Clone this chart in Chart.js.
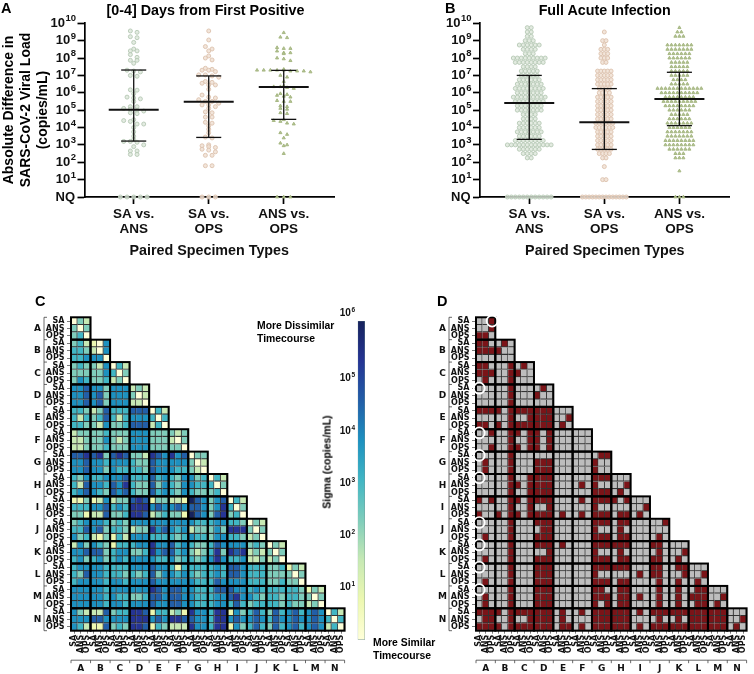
<!DOCTYPE html>
<html>
<head>
<meta charset="utf-8">
<script src="https://cdn.jsdelivr.net/npm/chart.js@4"></script>
<style>
  html, body { margin: 0; background: #fff; }
  #page { position: relative; width: 754px; height: 674px; overflow: hidden; }
  #page canvas { position: absolute; }
  .note { position: absolute; font: bold 13px "Liberation Sans", Arial, sans-serif; color: #000; white-space: pre; line-height: 13px; }
</style>
</head>
<body>
<div id="page"></div>
<script>
// values on the swarm panels are log10(copies/mL), NQ sits at 0
const pairLabels = [['SA vs.', 'ANS'], ['SA vs.', 'OPS'], ['ANS vs.', 'OPS']];

const a1Logs = [9.56,9.48,9.23,9.17,8.9,8.52,8.41,8.41,8.2,8.04,7.87,7.87,7.7,7.3,7.25,7.2,7.0,6.95,6.17,6.15,5.95,5.75,5.7,5.65,5.5,5.2,5.2,5.1,5.05,5.0,4.95,4.85,4.8,4.45,4.4,4.35,4.2,4.2,4.0,3.75,3.5,3.3,3.2,3.2,3.15,3.0,2.9,2.65,2.65,2.45,2.45,0,0,0,0,0];
const a2Logs = [9.56,9.04,8.66,8.52,8.41,8.12,8.0,7.89,7.41,7.35,7.3,7.3,7.22,7.03,7.03,6.97,6.9,6.65,6.6,6.55,6.45,6.45,6.2,5.87,5.75,5.7,5.6,5.5,5.5,5.4,5.3,5.3,5.2,5.1,4.9,4.85,4.6,4.6,4.3,4.25,4.1,3.9,3.7,3.45,3.4,3.0,2.95,2.9,2.85,2.75,2.7,2.6,2.4,2.4,1.8,1.8,0,0,0];
const a3Logs = [9.46,9.2,9.17,8.6,8.55,8.55,8.4,8.3,8.3,8.25,8.0,7.95,7.85,7.35,7.3,7.3,7.3,7.3,7.3,7.25,7.25,7.25,7.2,7.0,6.9,6.65,6.4,6.35,6.35,6.3,6.25,5.95,5.9,5.85,5.8,5.75,5.55,5.5,5.5,5.25,5.2,5.1,5.05,4.85,4.8,4.45,4.4,4.35,4.25,4.2,3.7,3.6,3.4,3.1,3.0,2.95,2.5,0,0,0];
const aMean = [5.03, 5.49, 6.33];
const aUpper = [7.31, 6.97, 7.29];
const aLower = [3.22, 3.43, 4.47];

const b1Levels = [9.75,9.5,9.25,9.0,8.75,8.5,8.25,8.0,7.75,7.5,7.25,7.0,6.75,6.5,6.25,6.0,5.75,5.5,5.25,5.0,4.75,4.5,4.25,4.0,3.75,3.5,3.25,3.0,2.75,2.5,2.25,0];
const b1Counts = [2,2,2,3,6,4,3,9,8,4,5,5,6,7,8,7,9,8,7,7,4,4,6,6,7,6,8,12,6,4,2,12];
const b2Levels = [9.5,9.0,8.75,8.5,8.25,8.0,7.75,7.25,7.0,6.75,6.5,6.25,6.0,5.75,5.5,5.25,5.0,4.75,4.5,4.25,4.0,3.75,3.5,3.25,3.0,2.75,2.5,2.25,1.75,1.0,0];
const b2Counts = [1,2,1,3,3,3,2,5,5,5,5,4,4,5,5,5,5,5,5,6,6,5,5,5,5,5,4,2,1,2,14];
const b3Levels = [9.75,9.5,9.25,8.75,8.5,8.25,8.0,7.75,7.5,7.25,7.0,6.75,6.5,6.25,6.0,5.75,5.5,5.25,5.0,4.75,4.5,4.25,4.0,3.75,3.5,3.25,3.0,2.75,2.5,2.25,1.5,0];
const b3Counts = [1,2,3,7,7,6,6,5,5,5,5,4,5,12,10,8,9,8,6,5,6,7,6,7,7,8,8,6,3,3,1,3];
const bMean = [5.41, 4.30, 5.64];
const bUpper = [7.00, 6.24, 7.18];
const bLower = [3.32, 2.74, 4.11];

const specimenTypes = ['SA', 'ANS', 'OPS'];
const subjects = ['A','B','C','D','E','F','G','H','I','J','K','L','M','N'];

// colour level per cell, 0 = palest to 8 = darkest, one string per row, one group per subject
const sigmaLevels = [
  '032','303','340',
  '342 105','443 205','445 550',
  '343 325 042','333 335 403','354 334 230',
  '556 553 555 232','556 563 555 302','556 563 555 220',
  '443 236 444 666 042','424 346 424 555 404','443 325 334 666 240',
  '233 334 333 555 333 323','223 335 323 555 333 203','223 334 333 555 333 330',
  '667 673 676 332 765 756 033','556 554 555 433 655 555 302','556 553 544 443 655 544 320',
  '435 445 556 444 645 435 534 042','426 554 657 433 635 435 544 403','456 543 656 433 645 435 433 340',
  '113 125 233 676 133 221 865 356 042','444 556 454 777 565 565 665 357 403','331 226 334 776 234 331 865 367 340',
  '345 554 343 555 555 555 544 455 443 032','446 563 443 233 756 545 233 353 777 303','534 213 142 555 444 434 544 355 443 230',
  '253 543 144 455 755 645 433 465 555 343 032','556 663 455 334 756 645 323 473 767 232 303','453 453 454 555 544 534 434 575 445 223 230',
  '455 554 444 555 655 414 444 454 665 444 334 132','436 554 443 434 635 545 434 454 665 444 333 303','455 554 554 555 655 555 544 465 555 444 334 330',
  '555 554 555 555 765 665 544 466 655 454 444 443 132','555 554 544 334 665 665 544 455 675 543 443 443 303','555 554 554 555 655 665 544 455 464 344 443 433 230',
  '532 226 344 776 144 231 755 477 153 464 364 564 565 042','555 665 555 777 565 776 655 477 565 565 465 565 565 404','542 116 343 776 143 222 755 477 153 464 364 564 565 240'
];

// 1 = significantly dissimilar pair
const significant = [
  '001','001','110',
  '110 010','111 100','000 000',
  '110 001 010','111 001 100','010 001 000',
  '000 001 000 010','000 001 000 100','000 001 000 000',
  '111 101 111 111 000','000 001 001 111 001','110 101 111 111 010',
  '001 001 101 101 000 000','000 001 001 101 000 000','001 001 101 101 000 000',
  '000 001 000 000 000 000 011','010 001 000 111 000 000 100','010 001 000 111 000 000 100',
  '000 001 001 111 000 000 111 000','000 001 101 111 000 010 100 001','000 001 001 111 000 000 111 010',
  '101 001 101 111 000 010 111 101 000','000 001 001 001 000 000 100 000 001','100 101 101 111 010 010 111 011 010',
  '000 001 000 111 000 000 111 011 000 001','000 001 000 011 000 000 100 010 000 000','010 001 000 111 000 000 111 011 000 010',
  '000 001 000 111 010 000 111 111 000 110 000','000 001 000 001 000 000 100 010 000 010 001','010 001 000 111 000 000 111 011 000 110 010',
  '000 001 000 111 000 000 111 111 000 110 011 000','000 001 000 111 000 000 100 000 010 110 001 001','010 001 000 111 000 000 111 011 000 010 010 010',
  '000 001 000 111 000 000 110 011 000 010 010 011 000','010 001 000 111 000 000 111 011 010 010 010 111 001','010 001 000 111 000 000 101 011 000 010 010 011 010',
  '111 101 111 111 010 010 111 111 010 111 111 111 111 000','011 001 001 111 010 000 111 111 000 010 010 111 111 001','111 101 111 111 011 010 111 111 010 111 111 111 111 010'
];
const circledCells = [[0,2],[9,0],[15,0],[18,0],[21,0],[27,0],[30,0],[33,0],[36,0]]; // [row, col]

const colorbarExponents = [1, 2, 3, 4, 5, 6];
const ramp = ['#ffffd9','#edf8b1','#c7e9b4','#7fcdbb','#41b6c4','#1d91c0','#225ea8','#253494','#16225c'];

const SANS = '"Liberation Sans", Arial, sans-serif';
const page = document.getElementById('page');

function addCanvas(left, top, width, height) {
  const c = document.createElement('canvas');
  c.width = width; c.height = height;
  c.style.left = left + 'px'; c.style.top = top + 'px';
  c.style.width = width + 'px'; c.style.height = height + 'px';
  page.appendChild(c);
  return c;
}

function note(text, x, y, size, center, rotate) {
  const d = document.createElement('div');
  d.className = 'note';
  d.textContent = text;
  d.style.left = x + 'px'; d.style.top = y + 'px';
  d.style.fontSize = size + 'px';
  d.style.lineHeight = Math.round(size * 1.25) + 'px';
  if (center) d.style.transform = 'translate(-50%, -50%)' + (rotate ? ' rotate(-90deg)' : '');
  page.appendChild(d);
}

function expand(levels, counts) {
  return levels.flatMap((v, i) => Array(counts[i]).fill(v));
}

// GraphPad style: values in one bin spread evenly either side of the group centre
function swarm(values, group, spacing, bin) {
  const rows = new Map();
  values.forEach(v => {
    const key = Math.round(v / bin);
    if (!rows.has(key)) rows.set(key, []);
    rows.get(key).push(v);
  });
  const pts = [];
  rows.forEach(row => row.forEach((v, k) => {
    pts.push({ x: group + (k - (row.length - 1) / 2) * spacing, y: v });
  }));
  return pts;
}

function segment(x0, y0, x1, y1, width) {
  return {
    type: 'scatter', showLine: true, pointRadius: 0, order: 0, clip: false,
    data: [{ x: x0, y: y0 }, { x: x1, y: y1 }],
    borderColor: '#111', borderWidth: width
  };
}

function errorBars(mean, upper, lower, meanHalf, capHalf) {
  const out = [];
  mean.forEach((m, i) => {
    const x = i + 1;
    out.push(segment(x, lower[i], x, upper[i], 1.3));
    out.push(segment(x - capHalf, upper[i], x + capHalf, upper[i], 1.3));
    out.push(segment(x - capHalf, lower[i], x + capHalf, lower[i], 1.3));
    out.push(segment(x - meanHalf, m, x + meanHalf, m, 2));
  });
  return out;
}

const markerStyles = [
  { pointStyle: 'circle', pointRadius: 2, pointBackgroundColor: 'rgba(220,230,218,0.8)', pointBorderColor: '#b5c8b4' },
  { pointStyle: 'circle', pointRadius: 2, pointBackgroundColor: 'rgba(240,224,212,0.85)', pointBorderColor: '#dcc2ae' },
  { pointStyle: 'triangle', pointRadius: 1.8, pointBackgroundColor: '#b5c495', pointBorderColor: '#a3b47e' }
];

// draws 10^n tick labels with a real raised exponent
function powerLabels(axisId, rightX, size, supSize, rise, topNudge) {
  return {
    id: 'powerLabels',
    afterDraw(chart) {
      const { ctx } = chart;
      const scale = chart.scales[axisId];
      ctx.save();
      ctx.fillStyle = '#111';
      ctx.textBaseline = 'middle';
      scale.ticks.forEach(t => {
        let y = scale.getPixelForValue(t.value);
        const font = `bold ${size}px ${SANS}`, supFont = `bold ${supSize}px ${SANS}`;
        if (t.value === 0) {
          ctx.font = font; ctx.textAlign = 'right';
          ctx.fillText('NQ', rightX - 1, y);
          return;
        }
        if (t.value === 6 && topNudge) y -= topNudge;
        ctx.textAlign = 'left';
        ctx.font = supFont;
        const sup = String(t.value), supW = ctx.measureText(sup).width;
        ctx.font = font;
        const baseW = ctx.measureText('10').width;
        ctx.fillText('10', rightX - supW - baseW - 0.5, y);
        ctx.font = supFont;
        ctx.fillText(sup, rightX - supW, y - rise);
      });
      ctx.restore();
    }
  };
}

function swarmChart(canvas, datasets, plotLeft, plotRight, plotTop, plotBottom, xMin, xMax) {
  return new Chart(canvas, {
    type: 'scatter',
    data: { datasets },
    plugins: [powerLabels('y', plotLeft - 8.5, 13, 9.5, 4.5)],
    options: {
      responsive: false, animation: false,
      layout: { padding: { top: plotTop, right: canvas.width - plotRight, left: 0, bottom: 0 } },
      plugins: { legend: { display: false }, tooltip: { enabled: false } },
      scales: {
        x: {
          type: 'linear', min: xMin, max: xMax,
          afterBuildTicks: s => { s.ticks = [1, 2, 3].map(value => ({ value })); },
          afterFit: s => { s.height = canvas.height - plotBottom; },
          border: { color: '#000', width: 1.7 },
          grid: { drawOnChartArea: false, tickLength: 7, tickWidth: 1.7, tickColor: '#000' },
          ticks: {
            autoSkip: false, maxRotation: 0, padding: 2.5, color: '#111',
            font: { family: SANS, weight: 'bold', size: 13.5, lineHeight: 1.13 },
            callback: (v, i) => pairLabels[i]
          },
          title: {
            display: true, text: 'Paired Specimen Types', color: '#111',
            font: { family: SANS, weight: 'bold', size: 14.3, lineHeight: 1.2 },
            padding: { top: 0, bottom: 2 }
          }
        },
        y: {
          type: 'linear', min: 0, max: 10,
          afterBuildTicks: s => { s.ticks = [0,1,2,3,4,5,6,7,8,9,10].map(value => ({ value })); },
          afterFit: s => { s.width = plotLeft; },
          border: { color: '#000', width: 1.7 },
          grid: { drawOnChartArea: false, tickLength: 7, tickWidth: 1.7, tickColor: '#000' },
          ticks: { autoSkip: false, callback: () => '' }
        }
      }
    }
  });
}

function swarmSets(groups, spacings, bins) {
  return groups.map((vals, i) => Object.assign({
    data: swarm(vals, i + 1, spacings[i], bins[i]),
    pointBorderWidth: 0.9, order: 1, clip: false
  }, markerStyles[i]));
}

// Panel A
const canvasA = addCanvas(0, 0, 377, 262);
swarmChart(canvasA,
  [...errorBars(aMean, aUpper, aLower, 0.333, 0.167),
   ...swarmSets([a1Logs, a2Logs, a3Logs], [0.089, 0.089, 0.089], [0.24, 0.24, 0.24])],
  84.5, 334, 23.3, 197, 1 - 0.656, 3.67);

// Panel B
const canvasB = addCanvas(377, 0, 377, 262);
swarmChart(canvasB,
  [...errorBars(bMean, bUpper, bLower, 0.333, 0.167),
   ...swarmSets([expand(b1Levels, b1Counts), expand(b2Levels, b2Counts), expand(b3Levels, b3Counts)],
                [0.053, 0.045, 0.053], [0.25, 0.25, 0.25])],
  103, 352.7, 23.3, 197, 1 - 0.656, 3.67);

// Heat maps: one floating bar per cell, drawn on real scales
const rowNames = subjects.flatMap(() => specimenTypes);
const colNames = rowNames;

function decodeRows(rows) {
  return rows.map(r => r.replace(/ /g, '').split('').map(Number));
}

function heatChart(left, top, width, height, plotLeft, plotRight, plotTop, plotBottom, rows, colorFor, extras) {
  const canvas = addCanvas(left, top, width, height);
  const datasets = rows.map((cells, j) => ({
    data: colNames.map((_, i) => (i < cells.length ? [j, j + 1] : null)),
    backgroundColor: colNames.map((_, i) => (i < cells.length ? colorFor(cells[i]) : 'transparent')),
    borderColor: 'rgba(30,30,30,0.9)',
    borderWidth: { top: 0, left: 0, right: 1.2, bottom: 1.2 },
    borderSkipped: false,
    grouped: false, barPercentage: 1, categoryPercentage: 1
  }));
  return new Chart(canvas, {
    type: 'bar',
    data: { labels: colNames, datasets },
    plugins: [blockFrames(extras)],
    options: {
      responsive: false, animation: false,
      layout: { padding: { top: plotTop, right: width - plotRight, left: 0, bottom: 0 } },
      plugins: { legend: { display: false }, tooltip: { enabled: false } },
      scales: {
        x: {
          type: 'category',
          afterFit: s => { s.height = height - plotBottom; },
          border: { display: false },
          grid: { drawOnChartArea: false, offset: false, tickLength: 3, tickWidth: 0.7, tickColor: '#444' },
          ticks: {
            autoSkip: false, minRotation: 90, maxRotation: 90, padding: 1, color: '#111',
            font: { family: '"DejaVu Sans"', weight: 'bold', size: 8 }
          }
        },
        y: {
          type: 'linear', min: 0, max: rows.length, reverse: true,
          afterBuildTicks: s => { s.ticks = rowNames.map((_, j) => ({ value: j + 0.5 })); },
          afterFit: s => { s.width = plotLeft; },
          border: { display: false },
          grid: { drawOnChartArea: false, tickLength: 4, tickWidth: 0.7, tickColor: '#444' },
          ticks: {
            autoSkip: false, padding: 2.5, color: '#111',
            font: { family: '"DejaVu Sans"', weight: 'bold', size: 8 },
            callback: (v, i) => rowNames[i]
          }
        }
      }
    }
  });
}

// subject outlines, brackets and subject letters
function blockFrames(circles) {
  return {
    id: 'blockFrames',
    afterDraw(chart) {
      const { ctx, chartArea: area } = chart;
      const w = (area.right - area.left) / 42, h = (area.bottom - area.top) / 42;
      ctx.save();
      ctx.strokeStyle = '#000';
      ctx.lineWidth = 2;
      subjects.forEach((_, b) => {
        for (let c = 0; c <= b; c++) {
          ctx.strokeRect(area.left + c * 3 * w, area.top + b * 3 * h, 3 * w, 3 * h);
        }
      });
      ctx.strokeStyle = '#444';
      ctx.lineWidth = 0.8;
      const bx = area.left - 27, by = area.bottom + 29.5;
      ctx.beginPath();
      ctx.moveTo(bx, area.top); ctx.lineTo(bx, area.bottom);
      ctx.moveTo(area.left, by); ctx.lineTo(area.right, by);
      subjects.forEach((_, b) => {
        ctx.moveTo(bx, area.top + b * 3 * h); ctx.lineTo(bx + 3, area.top + b * 3 * h);
        ctx.moveTo(area.left + b * 3 * w, by); ctx.lineTo(area.left + b * 3 * w, by + 3);
      });
      ctx.moveTo(bx, area.bottom); ctx.lineTo(bx + 3, area.bottom);
      ctx.moveTo(area.right, by); ctx.lineTo(area.right, by + 3);
      ctx.stroke();
      ctx.fillStyle = '#111';
      ctx.font = 'bold 9px "DejaVu Sans"';
      ctx.textAlign = 'center';
      ctx.textBaseline = 'middle';
      subjects.forEach((name, b) => {
        ctx.fillText(name, area.left - 33.5, area.top + (b * 3 + 1.5) * h);
        ctx.fillText(name, area.left + (b * 3 + 1.5) * w, by + 8);
      });
      if (circles) {
        ctx.strokeStyle = '#fff';
        ctx.lineWidth = 1.7;
        circles.forEach(([r, c]) => {
          ctx.beginPath();
          ctx.arc(area.left + (c + 0.5) * w, area.top + (r + 0.5) * h, 5.5, 0, Math.PI * 2);
          ctx.stroke();
        });
      }
      ctx.restore();
    }
  };
}

heatChart(0, 300, 352, 374, 71, 346.7, 17.3, 330.7, decodeRows(sigmaLevels), d => ramp[d]);
heatChart(405, 300, 349, 374, 71, 347.3, 17.3, 330.7, decodeRows(significant),
  d => (d ? '#7b1418' : '#bdbdbd'), circledCells);

// Colour bar: one floating bar with the same ramp, on a log10 sigma axis
const barCanvas = addCanvas(320, 300, 50, 350);
new Chart(barCanvas, {
  type: 'bar',
  data: {
    labels: ['sigma'],
    datasets: [{
      data: [[0, 6.1]],
      barPercentage: 1, categoryPercentage: 1,
      borderWidth: 0.7, borderColor: '#6f8f8f', borderSkipped: false,
      backgroundColor(ctx) {
        const area = ctx.chart.chartArea;
        if (!area) return ramp[4];
        const g = ctx.chart.ctx.createLinearGradient(0, area.bottom, 0, area.top);
        ramp.forEach((c, i) => g.addColorStop(i / (ramp.length - 1), c));
        return g;
      }
    }]
  },
  plugins: [powerLabels('y', 35, 10, 6.5, 3, 13)],
  options: {
    responsive: false, animation: false,
    layout: { padding: { top: 21, right: 5, left: 0, bottom: 0 } },
    plugins: { legend: { display: false }, tooltip: { enabled: false } },
    scales: {
      x: { display: false },
      y: {
        type: 'linear', min: 0, max: 6.1,
        afterBuildTicks: s => { s.ticks = colorbarExponents.map(value => ({ value })); },
        afterFit: s => { s.width = 37.7; },
        border: { display: false },
        grid: { display: false },
        ticks: { autoSkip: false, callback: () => '' }
      }
    }
  }
});

note('A', 1, -1, 14.5);
note('B', 445, -1, 14.5);
note('C', 35, 292, 14.5);
note('D', 437, 292, 14.5);
note('[0-4] Days from First Positive', 205.5, 10, 14.3, true);
note('Full Acute Infection', 604.7, 10, 14.3, true);
note('Absolute Difference in', 8, 110, 14, true, true);
note('SARS-CoV-2 Viral Load', 25, 110, 14, true, true);
note('(copies/mL)', 42, 110, 14, true, true);
note('Sigma (copies/mL)', 327, 462, 10.5, true, true);
note('More Dissimilar\nTimecourse', 257, 319, 10.4);
note('More Similar\nTimecourse', 373, 636, 10.4);
</script>
</body>
</html>
